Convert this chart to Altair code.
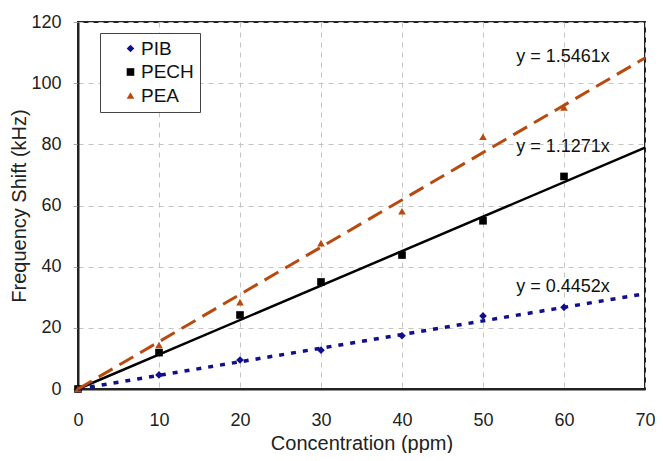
import altair as alt
import pandas as pd

# ---- data ----
conc = [0, 10, 20, 30, 40, 50, 60]
pib = [0, 4.6, 9.5, 12.7, 17.4, 23.9, 26.7]
pech = [0, 11.9, 24.2, 35.0, 43.8, 55.0, 69.5]
pea = [0, 14.4, 28.4, 47.7, 58.1, 82.5, 92.1]

series = ["PIB", "PECH", "PEA"]
colors = ["#10108f", "#000000", "#b84a10"]
shapes = ["diamond", "square", "triangle-up"]
slopes = [0.4452, 1.1271, 1.5461]
trend_x = [0, 70]

label_x = [54.1, 54.1, 54.1]
label_y = [33.3, 79.0, 108.7]
label_text = ["y = 0.4452x", "y = 1.1271x", "y = 1.5461x"]

x_ticks = [0, 10, 20, 30, 40, 50, 60, 70]
y_ticks = [0, 20, 40, 60, 80, 100, 120]

FONT = "Liberation Sans"

pts = pd.DataFrame({
    "conc": conc * 3,
    "shift": pib + pech + pea,
    "series": ["PIB"] * len(conc) + ["PECH"] * len(conc) + ["PEA"] * len(conc),
})

trend_rows = []
for s, m in zip(series, slopes):
    for xv in trend_x:
        trend_rows.append({"series": s, "conc": xv, "shift": m * xv})
trend = pd.DataFrame(trend_rows)

labels = pd.DataFrame({"x": label_x, "y": label_y, "text": label_text})

xs = alt.Scale(domain=[0, 70], nice=False)
ys = alt.Scale(domain=[0, 120], nice=False)

x_enc = alt.X("conc:Q", scale=xs, axis=alt.Axis(
    values=x_ticks, title="Concentration (ppm)", ticks=False, labelFlush=False,
    labelPadding=22, titlePadding=4, grid=True))
y_enc = alt.Y("shift:Q", scale=ys, axis=alt.Axis(
    values=y_ticks, title="Frequency Shift (kHz)", tickSize=5,
    tickColor="#aaaaaa", labelPadding=12, titlePadding=1, grid=True))

points = alt.Chart(pts).mark_point(filled=True, opacity=1, size=58).encode(
    x=x_enc,
    y=y_enc,
    color=alt.Color("series:N", sort=series,
                    scale=alt.Scale(domain=series, range=colors),
                    legend=alt.Legend(title=None)),
    shape=alt.Shape("series:N", sort=series,
                    scale=alt.Scale(domain=series, range=shapes),
                    legend=alt.Legend(title=None)),
)

line_styles = {
    "PIB": dict(color=colors[0], strokeDash=[5, 7], strokeWidth=3.5),
    "PECH": dict(color=colors[1], strokeWidth=2.5),
    "PEA": dict(color=colors[2], strokeDash=[16, 8], strokeWidth=3),
}
lines = []
for s in series:
    lines.append(
        alt.Chart(trend).transform_filter(alt.datum.series == s)
        .mark_line(strokeCap="butt", **line_styles[s])
        .encode(x="conc:Q", y="shift:Q")
    )

texts = alt.Chart(labels).mark_text(
    align="left", baseline="middle", fontSize=18, font=FONT, color="#111111"
).encode(x="x:Q", y="y:Q", text="text:N")

chart = alt.layer(points, *lines, texts).properties(
    width=567, height=367,
    autosize=alt.AutoSizeParams(type="none"),
    padding={"left": 70, "top": 14, "right": 10, "bottom": 64},
).configure_view(
    stroke="#222222", strokeWidth=2
).configure_axis(
    gridColor="#c4c4c4", gridDash=[5, 5], gridWidth=1,
    domainColor="#222222", domainWidth=2,
    labelFont=FONT, labelFontSize=18, labelColor="#222222",
    titleFont=FONT, titleFontSize=20, titleFontWeight="normal",
    titleColor="#222222",
).configure_legend(
    orient="none", legendX=22, legendY=11,
    strokeColor="#444444", strokeWidth=1, fillColor="white",
    padding=6, symbolOffset=15, labelOffset=1,
    labelFont=FONT, labelFontSize=19, labelColor="#111111",
    rowPadding=3.5, symbolSize=58, symbolStrokeWidth=0,
)

chart.save("out.html", embed_options={"renderer": "svg", "actions": False})
